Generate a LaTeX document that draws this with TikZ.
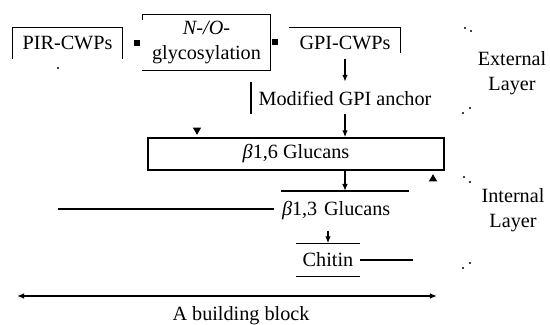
\documentclass[tikz,border=0pt]{standalone}
\usepackage{fontspec}
\setmainfont{Liberation Serif}
\usetikzlibrary{arrows.meta,shapes.geometric}

\begin{document}
\begin{tikzpicture}[x=0.02cm, y=-0.02cm, line width=0.8pt,
  font=\fontsize{11.5pt}{14pt}\selectfont,
  every node/.style={inner sep=0pt},
  arr/.style={-{Latex[length=4pt,width=3.2pt]}},
  ends/.style={{Latex[length=4pt,width=3.2pt]}-{Latex[length=4pt,width=3.2pt]}},
  speck/.style={fill, circle, minimum size=1.4pt},
  blot/.style={fill, minimum size=3pt},
  tipdown/.style={fill, regular polygon, regular polygon sides=3, shape border rotate=180, minimum size=5.5pt},
  tipup/.style={fill, regular polygon, regular polygon sides=3, minimum size=5.5pt}]
  \useasboundingbox (0,0) rectangle (550,324);

  \node[minimum width=2.18cm, minimum height=0.6cm] at (67.5,43) (pir) {PIR-CWPs};
  \node[minimum width=2.54cm, minimum height=1.1cm, align=center] at (206.5,42.5) (glyc) {\textit{N-/O-}\\glycosylation};
  \node[minimum width=2.2cm, minimum height=0.6cm] at (345,43) (gpi) {GPI-CWPs};
  \node[inner xsep=0.14cm, minimum height=0.62cm] at (345,98) (anch) {Modified GPI anchor};
  \node[draw, minimum width=5.92cm, minimum height=0.64cm] at (296,154) (b16) {\textit{β}1,6 Glucans};
  \node[anchor=north, text width=2.52cm, align=left, inner ysep=0.2cm] at (345,191) (b13) {\textit{β}1,3 Glucans};
  \node[minimum width=1.24cm, minimum height=0.64cm] at (328,260) (chitin) {Chitin};
  \node[align=center] at (512,73) (ext) {External\\Layer};
  \node[align=center] at (513,210) (int) {Internal\\Layer};
  \node at (241,316) (blk) {A building block};

  \coordinate (l13) at (58,209);
  \coordinate (chr) at (413,261);
  \coordinate (bl) at (17,296);
  \coordinate (br) at (437,296);

  \draw (pir.south west) -- (pir.north west) -- (pir.north east) -- (pir.south east);
  \draw ([yshift=-0.12cm]glyc.north west) -- (glyc.north west) -- (glyc.north east)
    -- (glyc.south east) -- (glyc.south west);
  \draw (gpi.north west) -- (gpi.north east) -- ([yshift=0.12cm]gpi.south east);
  \draw (anch.north west) -- (anch.south west);
  \draw (b13.north west) -- (b13.north east);
  \draw (chitin.north west) -- (chitin.north east) (chitin.south west) -- (chitin.south east);

  \draw[arr] (gpi) -- (anch);
  \draw[arr] (anch.south) -- (anch.south |- b16.north);
  \draw[arr] (b16.south -| anch.south) -- (b13.north);
  \draw[arr] (b13.south -| chitin.north) -- (chitin.north);
  \draw[shorten >=0.14cm] (l13) -- (l13 -| b13.west);
  \draw (chitin.east) -- (chitin.east -| chr);
  \draw[ends] (bl) -- (br);

  \node[blot] at (137,43) (m1) {};
  \node[blot] at (275,42) (m2) {};
  \node[speck] at (58,68) (m3) {};
  \node[tipdown] at (197,130) (m4) {};
  \node[tipup] at (433,179) (m5) {};
  \foreach \x/\y [count=\i] in {465/28, 471/31, 470/108, 463/113, 464/177, 470/182, 470/263, 463/268}
    \node[speck] at (\x,\y) (s\i) {};
\end{tikzpicture}
\end{document}
